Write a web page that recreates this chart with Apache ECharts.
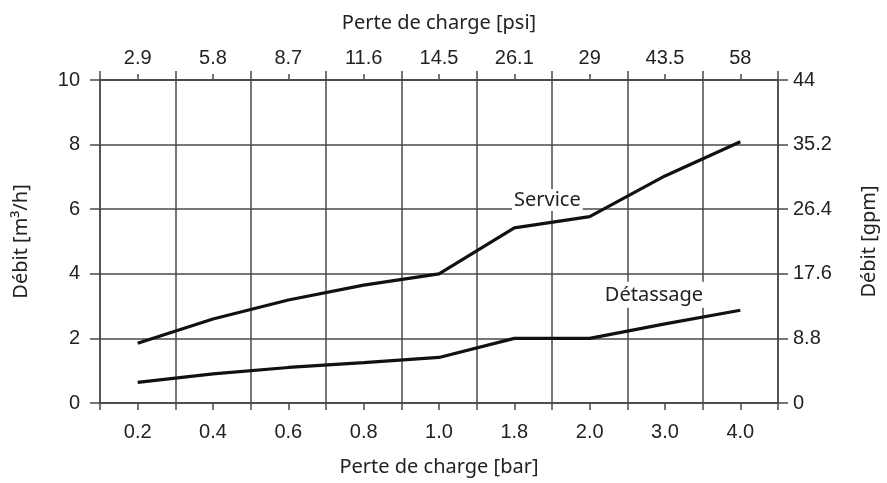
<!DOCTYPE html>
<html>
<head>
<meta charset="utf-8">
<script src="https://cdn.jsdelivr.net/npm/echarts@6/dist/echarts.min.js"></script>
<style>
  html, body { margin: 0; padding: 0; background: #fff; }
  #chart { width: 887px; height: 483px; }
</style>
</head>
<body>
<div id="chart"></div>
<script>
// pertes de charge
const barLabels = ['0.2', '0.4', '0.6', '0.8', '1.0', '1.8', '2.0', '3.0', '4.0'];
const psiLabels = ['2.9', '5.8', '8.7', '11.6', '14.5', '26.1', '29', '43.5', '58'];
// débit m3/h
const service = [1.85, 2.6, 3.19, 3.65, 4.0, 5.42, 5.77, 7.03, 8.09];
const detassage = [0.64, 0.9, 1.1, 1.25, 1.41, 2.0, 2.0, 2.45, 2.87];

const gridColor = '#4a4a4a';
const textColor = '#222';
const tickFont = 'Liberation Sans';
const nameFont = 'Noto Sans';

const myChart = echarts.init(document.getElementById('chart'));

function catAxis(pos, labels, showLabel, align, extra) {
  return Object.assign({
    type: 'category',
    position: pos,
    data: labels,
    boundaryGap: true,
    axisLine: { show: true, lineStyle: { color: gridColor, width: 1.5 } },
    axisTick: { show: true, alignWithLabel: align, length: 7, lineStyle: { color: gridColor, width: 1.5 } },
    axisLabel: { show: showLabel, color: textColor, fontFamily: tickFont, fontSize: 20 },
    splitLine: { show: false }
  }, extra || {});
}

const nameStyle = { color: textColor, fontFamily: nameFont, fontSize: 20 };

const option = {
  animation: false,
  backgroundColor: '#fff',
  grid: { left: 100, right: 107, top: 80, bottom: 80 },
  xAxis: [
    catAxis('bottom', barLabels, true, true, {
      name: 'Perte de charge [bar]',
      nameLocation: 'middle',
      nameGap: 54,
      nameTextStyle: nameStyle,
      axisLabel: { show: true, color: textColor, fontFamily: tickFont, fontSize: 20, margin: 19 },
      splitLine: { show: true, lineStyle: { color: gridColor, width: 1.5 } }
    }),
    catAxis('bottom', barLabels, false, false),
    catAxis('top', psiLabels, true, true, {
      name: 'Perte de charge [psi]',
      nameLocation: 'middle',
      nameGap: 47,
      nameTextStyle: nameStyle,
      axisTick: { show: true, alignWithLabel: true, length: 6, lineStyle: { color: gridColor, width: 1.5 } },
      axisLabel: { show: true, color: textColor, fontFamily: tickFont, fontSize: 20, margin: 12 }
    }),
    catAxis('top', psiLabels, false, false, {
      axisTick: { show: true, length: 9, lineStyle: { color: gridColor, width: 1.5 } }
    })
  ],
  yAxis: [
    {
      type: 'value',
      position: 'left',
      min: 0, max: 10, interval: 2,
      name: 'Débit [m³/h]',
      nameLocation: 'middle',
      nameGap: 69,
      nameTextStyle: nameStyle,
      axisLine: { show: true, lineStyle: { color: gridColor, width: 1.5 } },
      axisTick: { show: true, length: 10, lineStyle: { color: gridColor, width: 1.5 } },
      axisLabel: { color: textColor, fontFamily: tickFont, fontSize: 20, margin: 20 },
      splitLine: { show: true, lineStyle: { color: gridColor, width: 1.5 } }
    },
    {
      type: 'value',
      position: 'right',
      min: 0, max: 44, interval: 8.8,
      name: 'Débit [gpm]',
      nameLocation: 'middle',
      nameGap: 81,
      nameTextStyle: nameStyle,
      axisLine: { show: true, lineStyle: { color: gridColor, width: 1.5 } },
      axisTick: { show: true, length: 10, lineStyle: { color: gridColor, width: 1.5 } },
      axisLabel: {
        color: textColor, fontFamily: tickFont, fontSize: 20, margin: 15,
        formatter: v => String(+v.toFixed(1))
      },
      splitLine: { show: false }
    }
  ],
  series: [
    {
      name: 'Service',
      type: 'line',
      xAxisIndex: 0,
      yAxisIndex: 0,
      data: service,
      symbol: 'none',
      lineStyle: { color: '#111', width: 3.2 },
      z: 5,
      markPoint: {
        symbol: 'circle',
        symbolSize: 0,
        data: [{ coord: ['1.8', service[5]] }],
        label: {
          show: true, formatter: 'Service', position: 'inside', offset: [33, -28],
          color: textColor, fontFamily: nameFont, fontSize: 20,
          backgroundColor: '#fff', padding: [1, 2, 1, 2]
        }
      }
    },
    {
      name: 'Détassage',
      type: 'line',
      xAxisIndex: 0,
      yAxisIndex: 0,
      data: detassage,
      symbol: 'none',
      lineStyle: { color: '#111', width: 3.2 },
      z: 5,
      markPoint: {
        symbol: 'circle',
        symbolSize: 0,
        data: [{ coord: ['3.0', detassage[7]] }],
        label: {
          show: true, formatter: 'Détassage', position: 'inside', offset: [-11, -29],
          color: textColor, fontFamily: nameFont, fontSize: 20,
          backgroundColor: '#fff', padding: [3, 2, 3, 2]
        }
      }
    }
  ]
};

myChart.setOption(option);
</script>
</body>
</html>
